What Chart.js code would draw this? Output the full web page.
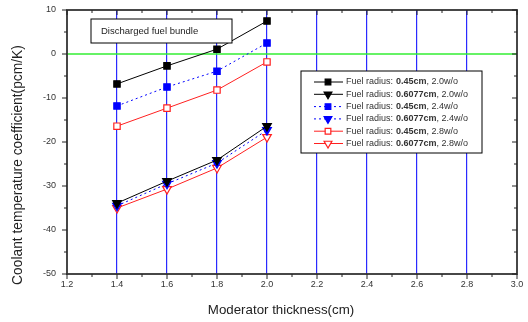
<!DOCTYPE html>
<html>
<head>
<meta charset="utf-8">
<script src="https://cdn.jsdelivr.net/npm/chart.js@4"></script>
<style>
  html, body { margin: 0; padding: 0; background: #fff; }
  #wrap { width: 528px; height: 322px; }
</style>
</head>
<body>
<div id="wrap"><canvas id="grafico"></canvas></div>
<script>
// data
const thickness = [1.4, 1.6, 1.8, 2.0];
const r045_w20 = [-6.8, -2.7, 1.1, 7.5];
const r6077_w20 = [-33.9, -28.9, -24.1, -16.4];
const r045_w24 = [-11.8, -7.5, -3.9, 2.5];
const r6077_w24 = [-34.5, -29.5, -24.8, -17.3];
const r045_w28 = [-16.4, -12.3, -8.2, -1.8];
const r6077_w28 = [-35.0, -30.7, -25.9, -18.9];
const radiusLabels = ['0.45cm', '0.6077cm', '0.45cm', '0.6077cm', '0.45cm', '0.6077cm'];
const enrichLabels = [', 2.0w/o', ', 2.0w/o', ', 2.4w/o', ', 2.4w/o', ', 2.8w/o', ', 2.8w/o'];
const xTicks = [1.2, 1.4, 1.6, 1.8, 2.0, 2.2, 2.4, 2.6, 2.8, 3.0];
const yTicks = [10, 0, -10, -20, -30, -40, -50];

const FONT = '"Liberation Sans", Arial, sans-serif';

function pts(ys) {
    return thickness.map((x, i) => ({ x: x, y: ys[i] }));
}

function serie(ys, color, style, rot, filled, dash) {
    return {
        data: pts(ys),
        borderColor: color,
        backgroundColor: filled ? color : '#fff',
        borderWidth: 1,
        borderDash: dash || [],
        pointStyle: style,
        pointRotation: rot,
        pointRadius: style === 'rect' ? 4.5 : 5,
        pointBorderColor: color,
        pointBackgroundColor: filled ? color : '#fff',
        pointBorderWidth: 1.2,
        tension: 0
    };
}

const series = [
    serie(r045_w20, '#000', 'rect', 0, true),
    serie(r6077_w20, '#000', 'triangle', 180, true),
    serie(r045_w24, '#0000ff', 'rect', 0, true, [2, 3]),
    serie(r6077_w24, '#0000ff', 'triangle', 180, true, [2, 3]),
    serie(r045_w28, '#ff2020', 'rect', 0, false),
    serie(r6077_w28, '#ff2020', 'triangle', 180, false)
];

const moldura = {
    id: 'moldura',
    beforeDatasetsDraw(chart) {
        const { ctx, chartArea: a, scales } = chart;
        const y0 = scales.y.getPixelForValue(0);
        ctx.save();
        ctx.strokeStyle = '#33ee33';
        ctx.lineWidth = 1.5;
        ctx.beginPath();
        ctx.moveTo(a.left, y0);
        ctx.lineTo(a.right, y0);
        ctx.stroke();
        ctx.restore();
    },
    afterDraw(chart) {
        const { ctx, chartArea: a, scales } = chart;
        const sx = scales.x, sy = scales.y;
        ctx.save();
        // frame
        ctx.strokeStyle = '#333';
        ctx.lineWidth = 1.8;
        ctx.strokeRect(a.left, a.top, a.right - a.left, a.bottom - a.top);
        ctx.lineWidth = 1;
        ctx.strokeStyle = '#222';
        ctx.beginPath();
        for (let v = 12; v <= 30; v++) {
            const x = sx.getPixelForValue(v / 10);
            const len = v % 2 === 0 ? 5 : 3;
            ctx.moveTo(x, a.bottom); ctx.lineTo(x, a.bottom + len);
            ctx.moveTo(x, a.top); ctx.lineTo(x, a.top + len);
        }
        for (let v = -50; v <= 10; v += 5) {
            const y = sy.getPixelForValue(v);
            const len = v % 10 === 0 ? 5 : 3;
            ctx.moveTo(a.left, y); ctx.lineTo(a.left - len, y);
            ctx.moveTo(a.right, y); ctx.lineTo(a.right - len, y);
        }
        ctx.stroke();

        // axis titles
        ctx.fillStyle = '#222';
        ctx.textAlign = 'center';
        ctx.textBaseline = 'middle';
        ctx.font = '13.3px ' + FONT;
        ctx.fillText('Moderator thickness(cm)', 281, 310);
        ctx.save();
        ctx.translate(18, 165);
        ctx.rotate(-Math.PI / 2);
        ctx.font = '13.8px ' + FONT;
        ctx.fillText('Coolant temperature coefficient(pcm/K)', 0, 0);
        ctx.restore();
        ctx.textAlign = 'left';

        // annotation box
        ctx.fillStyle = '#fff';
        ctx.fillRect(91, 19, 141, 24);
        ctx.strokeStyle = '#000';
        ctx.lineWidth = 1;
        ctx.strokeRect(91, 19, 141, 24);
        ctx.fillStyle = '#222';
        ctx.font = '9.5px ' + FONT;
        ctx.fillText('Discharged fuel bundle', 101, 31);

        // legend
        const lx = 301, ly = 71, lw = 181, lh = 82;
        ctx.fillStyle = '#fff';
        ctx.fillRect(lx, ly, lw, lh);
        ctx.strokeStyle = '#000';
        ctx.strokeRect(lx, ly, lw, lh);
        series.forEach((s, i) => {
            const y = 82 + i * 12.3;
            ctx.strokeStyle = s.borderColor;
            ctx.lineWidth = 1;
            ctx.setLineDash(s.borderDash);
            ctx.beginPath();
            ctx.moveTo(314, y); ctx.lineTo(343, y);
            ctx.stroke();
            ctx.setLineDash([]);
            ctx.fillStyle = s.pointBackgroundColor;
            ctx.strokeStyle = s.pointBorderColor;
            ctx.lineWidth = 1.2;
            Chart.helpers.drawPoint(ctx, {
                pointStyle: s.pointStyle,
                rotation: s.pointRotation,
                radius: s.pointStyle === 'rect' ? 4 : 4.5,
                borderWidth: 1.2
            }, 328, y);
            ctx.fillStyle = '#333';
            ctx.font = '9px ' + FONT;
            ctx.fillText('Fuel radius:', 346, y);
            ctx.font = 'bold 9px ' + FONT;
            ctx.fillText(radiusLabels[i], 396, y);
            const w = ctx.measureText(radiusLabels[i]).width;
            ctx.font = '9px ' + FONT;
            ctx.fillText(enrichLabels[i], 396 + w, y);
        });
        ctx.restore();
    }
};

new Chart(document.getElementById('grafico').getContext('2d'), {
    type: 'line',
    data: { datasets: series },
    options: {
        responsive: true,
        maintainAspectRatio: false,
        animation: false,
        layout: { autoPadding: false, padding: { top: 10, right: 11, left: 0, bottom: 0 } },
        plugins: { legend: { display: false }, tooltip: { enabled: false } },
        scales: {
            x: {
                type: 'linear',
                min: 1.2,
                max: 3.0,
                afterBuildTicks: s => { s.ticks = xTicks.map(v => ({ value: v })); },
                afterFit: s => { s.height = 48; s.paddingLeft = 0; s.paddingRight = 0; },
                border: { display: false },
                grid: {
                    drawTicks: false,
                    color: c => (c.tick && (c.tick.value > 1.25 && c.tick.value < 2.95)) ? '#2a2aff' : 'rgba(0,0,0,0)',
                    lineWidth: 1.2
                },
                ticks: {
                    padding: 5,
                    color: '#333',
                    font: { family: FONT, size: 9 },
                    callback: v => v.toFixed(1)
                },
                title: { display: false }
            },
            y: {
                min: -50,
                max: 10,
                afterBuildTicks: s => { s.ticks = yTicks.map(v => ({ value: v })); },
                afterFit: s => { s.width = 67; s.paddingTop = 0; s.paddingBottom = 0; },
                border: { display: false },
                grid: { display: false, drawTicks: false },
                ticks: {
                    padding: 11,
                    color: '#333',
                    font: { family: FONT, size: 9 }
                },
                title: { display: false }
            }
        }
    },
    plugins: [moldura]
});
</script>
</body>
</html>
